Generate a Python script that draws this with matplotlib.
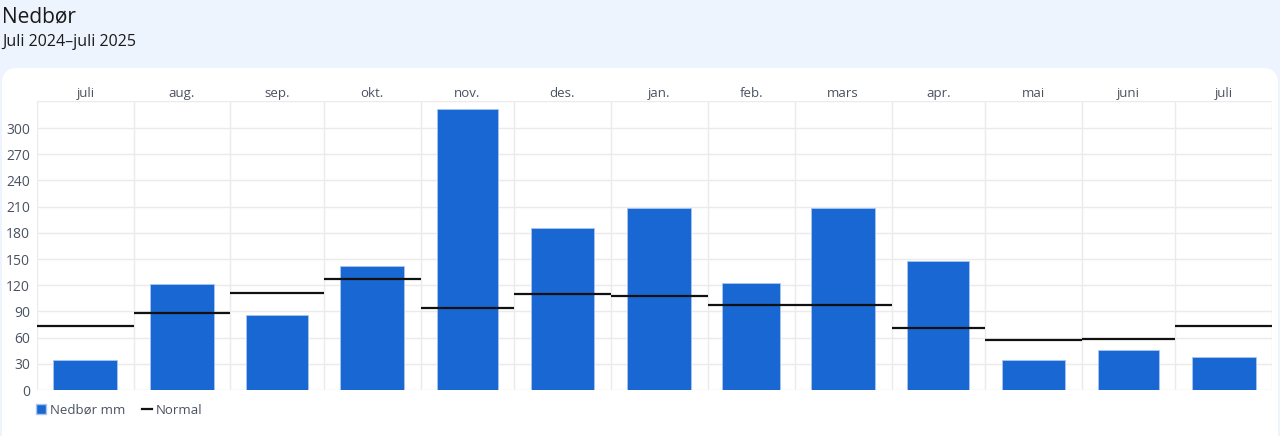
import matplotlib
matplotlib.use("Agg")
import matplotlib.pyplot as plt
import matplotlib.dates as mdates
from matplotlib.patches import FancyBboxPatch
from matplotlib.lines import Line2D
from matplotlib.patches import Patch
import datetime as dt

months = ["juli", "aug.", "sep.", "okt.", "nov.", "des.", "jan.", "feb.", "mars", "apr.", "mai", "juni", "juli"]
month_starts = ["2024-07-01", "2024-08-01", "2024-09-01", "2024-10-01", "2024-11-01", "2024-12-01",
                "2025-01-01", "2025-02-01", "2025-03-01", "2025-04-01", "2025-05-01", "2025-06-01",
                "2025-07-01", "2025-08-01"]
precip = [34, 121, 86, 142, 322, 185, 209, 122, 208, 148, 34, 46, 38]
normal = [73, 88, 111, 127, 94, 110, 108, 97, 97, 71, 57, 58, 73]
yticks = [0, 30, 60, 90, 120, 150, 180, 210, 240, 270, 300]

plt.rcParams['font.family'] = ['Open Sans', 'DejaVu Sans']

fig = plt.figure(figsize=(12.8, 4.36), dpi=100)
fig.patch.set_facecolor("#EDF4FE")

panel = FancyBboxPatch((2/1280, -0.05), 1276/1280, (436-68)/436 + 0.05,
                       boxstyle="round,pad=0,rounding_size=0.012",
                       transform=fig.transFigure, facecolor="white", edgecolor="none",
                       mutation_aspect=1280/436, zorder=-5)
fig.patches.append(panel)

fig.text(2/1280, 1 - 17/436, "Nedbør", fontsize=15, color="#1a1a1a", va="center", ha="left")
fig.text(2/1280, 1 - 42/436, "Juli 2024–juli 2025", fontsize=11.5, color="#1a1a1a", va="center", ha="left")

ax = fig.add_axes([37/1280, (436-390)/436, (1272-37)/1280, (390-101)/436])
ax.set_zorder(2)
ax.set_facecolor("white")

starts = [mdates.date2num(dt.date.fromisoformat(s)) for s in month_starts]
x0 = starts[:-1]
x1 = starts[1:]
centers = [(a + b) / 2 for a, b in zip(x0, x1)]
widths = [(b - a) * 0.66 for a, b in zip(x0, x1)]

ax.bar(centers, precip, width=widths, color="#1967D2", edgecolor="#A9C6F0", linewidth=0.6, zorder=3)
ax.hlines(normal, x0, x1, colors="#111111", linewidth=1.6, zorder=4)

ax.set_xlim(starts[0], starts[-1])
ax.set_ylim(0, 331)
ax.set_yticks(yticks)
ax.set_xticks(centers)
ax.set_xticklabels(months)
ax.xaxis.tick_top()
ax.tick_params(axis="x", length=0, pad=1, labelsize=9.5, labelcolor="#4a5260")
ax.tick_params(axis="y", length=0, pad=5, labelsize=10, labelcolor="#4a5260")

for s in starts:
    ax.axvline(s, color="#ECEAEA", linewidth=1, zorder=1)
for y in yticks:
    ax.axhline(y, color="#ECEAEA", linewidth=1, zorder=1)
ax.axhline(331, color="#ECEAEA", linewidth=1, zorder=1)
for sp in ax.spines.values():
    sp.set_visible(False)

handles = [Patch(facecolor="#1967D2", edgecolor="#A9C6F0", label="Nedbør mm"),
           Line2D([0], [0], color="#111111", linewidth=1.6, label="Normal")]
fig.legend(handles=handles, loc="center left", bbox_to_anchor=(24/1280, 1 - 410/436),
           ncol=2, frameon=False, fontsize=9.5, handlelength=0.8, handleheight=0.8,
           handletextpad=0.3, columnspacing=1.2, labelcolor="#4a5260")

fig.savefig("out.png", dpi=100, facecolor=fig.get_facecolor())
